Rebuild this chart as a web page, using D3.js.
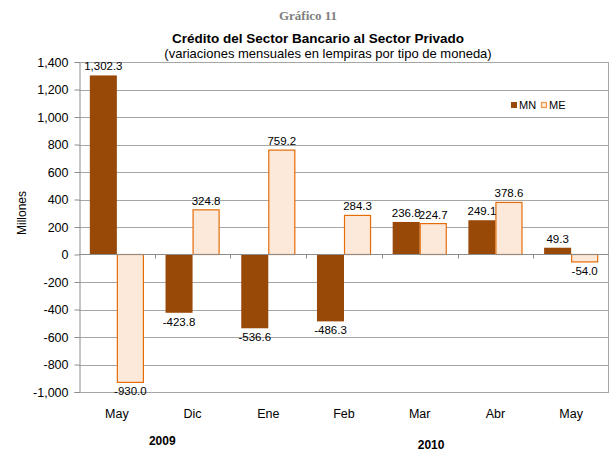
<!DOCTYPE html>
<html>
<head>
<meta charset="utf-8">
<script src="https://cdn.jsdelivr.net/npm/d3@7"></script>
<style>
  body { margin: 0; background: #fff; }
  svg { font-family: "Liberation Sans", Arial, sans-serif; }
</style>
</head>
<body>
<svg id="chart" width="613" height="451"></svg>
<script>
// data
var months = ["May", "Dic", "Ene", "Feb", "Mar", "Abr", "May"];
var mn = [1302.3, -423.8, -536.6, -486.3, 236.8, 249.1, 49.3];
var me = [-930.0, 324.8, 759.2, 284.3, 224.7, 378.6, -54.0];
var yTicks = [-1000, -800, -600, -400, -200, 0, 200, 400, 600, 800, 1000, 1200, 1400];
var years = ["2009", "2010"];

var svg = d3.select("#chart");
var margin = {top: 62, right: 4, bottom: 59, left: 79};
var width = +svg.attr("width") - margin.left - margin.right;
var height = +svg.attr("height") - margin.top - margin.bottom;

var idx = d3.range(months.length);
var x = d3.scaleBand().domain(idx).range([0, width]).paddingInner(0).paddingOuter(0);
var xs = d3.scaleBand().domain(["MN", "ME"]).range([0, x.bandwidth()]).paddingOuter(0.4).paddingInner(0);
var y = d3.scaleLinear().domain([-1000, 1400]).range([height, 0]);

var fmt = function(v) { return d3.format(",.1f")(v).replace("\u2212", "-"); };

// titles
svg.append("text").attr("x", 308).attr("y", 20).attr("text-anchor", "middle")
  .style("font-family", "'Liberation Serif', 'DejaVu Serif', serif")
  .style("font-weight", "bold").style("font-size", "13px").style("fill", "#808080")
  .text("Gráfico 11");
svg.append("text").attr("x", 318).attr("y", 43).attr("text-anchor", "middle")
  .style("font-weight", "bold").style("font-size", "13.5px").style("fill", "#000")
  .text("Crédito del Sector Bancario al Sector Privado");
svg.append("text").attr("x", 328).attr("y", 58).attr("text-anchor", "middle")
  .style("font-size", "13px").style("fill", "#000")
  .text("(variaciones mensuales en lempiras por tipo de moneda)");

var g = svg.append("g").attr("transform", "translate(" + margin.left + "," + margin.top + ")");

// grid
g.append("g").selectAll("line").data(yTicks).enter().append("line")
  .attr("x1", 0).attr("x2", width)
  .attr("y1", function(d) { return Math.round(y(d)) + 0.5; })
  .attr("y2", function(d) { return Math.round(y(d)) + 0.5; })
  .attr("stroke", "#a6a6a6").attr("stroke-width", 1);

// plot border (right)
g.append("line").attr("x1", width - 0.5).attr("x2", width - 0.5).attr("y1", 0).attr("y2", height)
  .attr("stroke", "#a6a6a6");

// y axis
var yAxis = g.append("g").attr("class", "axis axis--y")
  .attr("transform", "translate(0.5,0)")
  .call(d3.axisLeft(y).tickValues(yTicks).tickSize(5).tickPadding(6)
    .tickFormat(function(d) { return d3.format(",")(d).replace("\u2212", "-"); }));
yAxis.select(".domain").attr("stroke", "#8c8c8c");
yAxis.selectAll(".tick line").attr("stroke", "#8c8c8c");
yAxis.selectAll("text").style("font-size", "12.5px").style("fill", "#000")
  .style("font-family", "'Liberation Sans', Arial, sans-serif");

svg.append("text").attr("transform", "translate(26,213) rotate(-90)")
  .attr("text-anchor", "middle").style("font-size", "12px").text("Millones");

// bars
var cat = g.append("g").selectAll("g").data(idx).enter().append("g")
  .attr("transform", function(i) { return "translate(" + x(i) + ",0)"; });

cat.append("rect")
  .attr("x", xs("MN")).attr("width", xs.bandwidth())
  .attr("y", function(i) { return y(Math.max(0, mn[i])); })
  .attr("height", function(i) { return Math.abs(y(mn[i]) - y(0)); })
  .attr("fill", "#984807");

cat.append("rect")
  .attr("x", xs("ME") + 0.5).attr("width", xs.bandwidth() - 1)
  .attr("y", function(i) { return y(Math.max(0, me[i])); })
  .attr("height", function(i) { return Math.abs(y(me[i]) - y(0)); })
  .attr("fill", "#fde9d9").attr("stroke", "#e46c0a").attr("stroke-width", 1.2);

// x axis at zero
var xAxis = g.append("g").attr("transform", "translate(0," + (Math.round(y(0)) + 0.5) + ")");
xAxis.append("line").attr("x1", 0).attr("x2", width).attr("stroke", "#8c8c8c");
xAxis.selectAll(".tk").data(d3.range(1, months.length)).enter().append("line")
  .attr("x1", function(i) { return Math.round(x(i)) + 0.5; })
  .attr("x2", function(i) { return Math.round(x(i)) + 0.5; })
  .attr("y1", 0).attr("y2", 4).attr("stroke", "#8c8c8c");

// data labels
function lab(vals, key) {
  cat.append("text")
    .attr("x", xs(key) + xs.bandwidth() / 2)
    .attr("y", function(i) { return vals[i] >= 0 ? y(vals[i]) - 5 : y(vals[i]) + 13; })
    .attr("text-anchor", "middle")
    .style("font-size", "11.5px").style("fill", "#000")
    .text(function(i) { return fmt(vals[i]); });
}
lab(mn, "MN");
lab(me, "ME");

// month labels
g.append("g").selectAll("text").data(idx).enter().append("text")
  .attr("x", function(i) { return x(i) + x.bandwidth() / 2; })
  .attr("y", height + 26)
  .attr("text-anchor", "middle").style("font-size", "12.5px")
  .text(function(i) { return months[i]; });

// year labels
g.append("text").attr("x", x(0) + x.bandwidth() * 1.1).attr("y", height + 53)
  .attr("text-anchor", "middle").style("font-size", "12px").style("font-weight", "bold").text(years[0]);
g.append("text").attr("x", x(4) + x.bandwidth() * 0.65).attr("y", height + 57)
  .attr("text-anchor", "middle").style("font-size", "12px").style("font-weight", "bold").text(years[1]);

// legend
var leg = svg.append("g").attr("transform", "translate(511,102)");
leg.append("rect").attr("x", 0).attr("y", 0).attr("width", 6).attr("height", 6).attr("fill", "#984807");
leg.append("text").attr("x", 8).attr("y", 7).style("font-size", "11px").text("MN");
leg.append("rect").attr("x", 30.5).attr("y", 0.5).attr("width", 5).attr("height", 5)
  .attr("fill", "#fde9d9").attr("stroke", "#f79646").attr("stroke-width", 1.2);
leg.append("text").attr("x", 38).attr("y", 7).style("font-size", "11px").text("ME");
</script>
</body>
</html>
